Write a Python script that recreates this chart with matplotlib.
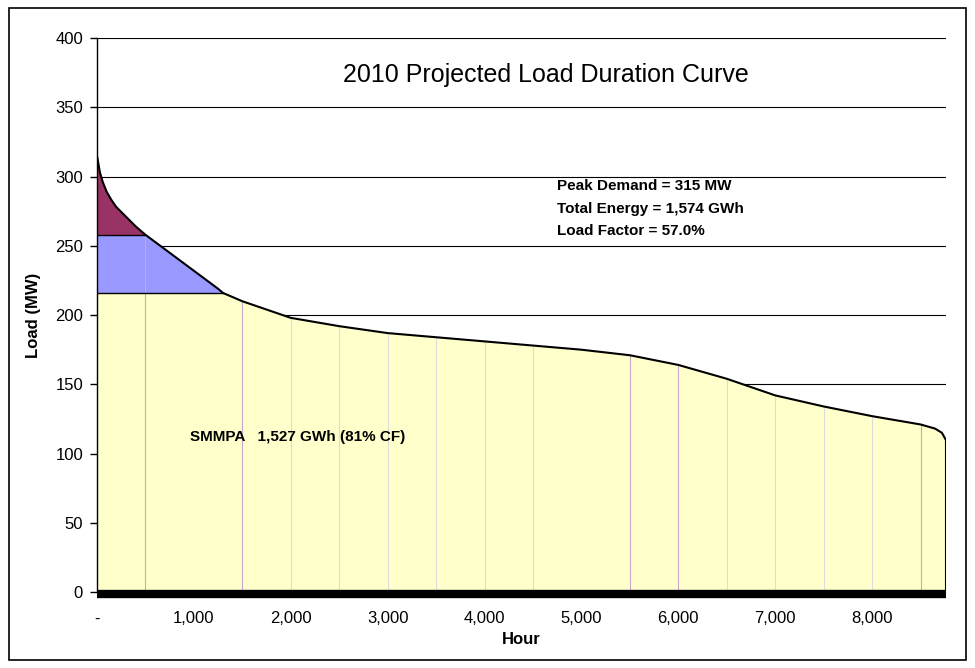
import matplotlib
matplotlib.use("Agg")
import matplotlib.pyplot as plt
import numpy as np
from matplotlib.patches import Rectangle

# Load duration curve (hour of year vs. load in MW)
hours = [0, 30, 60, 100, 150, 200, 300, 400, 500, 750, 1000, 1250, 1300, 1500,
         1750, 2000, 2500, 3000, 3500, 4000, 4500, 5000, 5500, 6000, 6500, 7000,
         7500, 8000, 8500, 8650, 8720, 8760]
load_mw = [315, 303, 296, 289, 283, 278, 271, 264, 258, 245, 232, 219, 216, 210,
           204, 198, 192, 187, 184, 181, 178, 175, 171, 164, 154, 142,
           134, 127, 121, 118, 115, 110]

# Band boundaries (MW)
band_low = 216
band_high = 258

band_colors = {"top": "#993366", "mid": "#9999FF", "base": "#FFFFCC"}

divider_hours = [500, 1500, 2000, 2500, 3000, 3500, 4000, 4500, 5500, 6000,
                 6500, 7000, 7500, 8000, 8500]
divider_colors = ["#C8A8C8", "#C8A8C8", "#DCDCDC", "#DCDCDC", "#DCDCDC",
                  "#DCDCDC", "#DCDCDC", "#DCDCDC", "#C8A8C8", "#C8A8C8",
                  "#DCDCDC", "#DCDCDC", "#DCDCDC", "#DCDCDC", "#C8A8C8"]

x_ticks = [0, 1000, 2000, 3000, 4000, 5000, 6000, 7000, 8000]
x_tick_labels = ["-", "1,000", "2,000", "3,000", "4,000", "5,000", "6,000",
                 "7,000", "8,000"]
y_ticks = [0, 50, 100, 150, 200, 250, 300, 350, 400]

plt.rcParams["font.family"] = ["Liberation Sans", "DejaVu Sans"]

fig = plt.figure(figsize=(9.75, 6.68), dpi=100)
ax = fig.add_axes([0.0995, 0.1138, 0.8705, 0.829])

# Outer border around the whole chart
fig.patches.append(Rectangle((0.009, 0.012), 0.982, 0.976, transform=fig.transFigure,
                             fill=False, edgecolor="black", linewidth=1.2))

hx = np.linspace(0, 8760, 2000)
h = np.interp(hx, hours, load_mw)

ax.set_xlim(0, 8760)
ax.set_ylim(0, 400)

for yv in y_ticks[1:]:
    ax.axhline(yv, color="black", linewidth=0.8, zorder=0)

# Base band
ax.fill_between(hx, 0, np.minimum(h, band_low), color=band_colors["base"],
                linewidth=0, zorder=1)
# Middle band
ax.fill_between(hx, band_low, np.clip(h, band_low, band_high),
                where=h > band_low, color=band_colors["mid"], linewidth=0, zorder=1)
# Top band
ax.fill_between(hx, band_high, np.maximum(h, band_high),
                where=h > band_high, color=band_colors["top"], linewidth=0, zorder=1)

for dx, dc in zip(divider_hours, divider_colors):
    ax.plot([dx, dx], [0, np.interp(dx, hours, load_mw)], color=dc,
            linewidth=0.8, zorder=2)

x_low = np.interp(-band_low, [-v for v in load_mw], hours)
x_high = np.interp(-band_high, [-v for v in load_mw], hours)
ax.plot([0, x_low], [band_low, band_low], color="black", linewidth=1.0, zorder=3)
ax.plot([0, x_high], [band_high, band_high], color="black", linewidth=1.0, zorder=3)

ax.plot(hours, load_mw, color="black", linewidth=1.5, zorder=4)
ax.plot([8760, 8760], [0, load_mw[-1]], color="black", linewidth=1.5, zorder=4)
ax.plot([0, 8760], [-1.5, -1.5], color="black", linewidth=6, zorder=5,
        solid_capstyle="butt", clip_on=False)

for s in ["top", "right", "bottom"]:
    ax.spines[s].set_visible(False)
ax.spines["left"].set_linewidth(1.0)

ax.set_yticks(y_ticks)
ax.set_xticks(x_ticks)
ax.set_xticklabels(x_tick_labels)
ax.tick_params(axis="y", length=5, width=1, labelsize=12, pad=5)
ax.tick_params(axis="x", length=0, labelsize=12, pad=14)

ax.set_xlabel("Hour", fontsize=12, fontweight="bold", labelpad=4)
ax.set_ylabel("Load (MW)", fontsize=12, fontweight="bold", labelpad=10)

ax.text(0.529, 0.933, "2010 Projected Load Duration Curve", transform=ax.transAxes,
        ha="center", va="center", fontsize=18)
ax.text(0.542, 0.745, "Peak Demand = 315 MW\nTotal Energy = 1,574 GWh\nLoad Factor = 57.0%",
        transform=ax.transAxes, ha="left", va="top", fontsize=11, fontweight="bold",
        linespacing=1.75)
ax.text(960, 112, "SMMPA   1,527 GWh (81% CF)", ha="left", va="center",
        fontsize=11, fontweight="bold", zorder=6)

fig.savefig("out.png", dpi=100)
